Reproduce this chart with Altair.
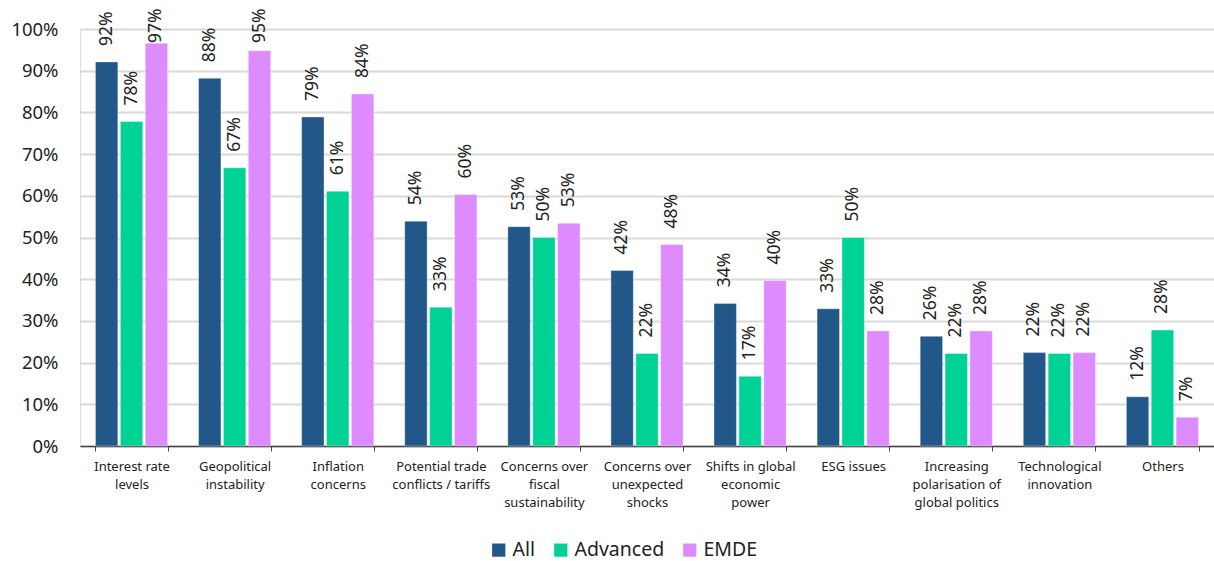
import altair as alt
import pandas as pd

# Survey categories (line breaks mark where the axis label wraps)
categories = [
    "Interest rate\nlevels",
    "Geopolitical\ninstability",
    "Inflation\nconcerns",
    "Potential trade\nconflicts / tariffs",
    "Concerns over\nfiscal\nsustainability",
    "Concerns over\nunexpected\nshocks",
    "Shifts in global\neconomic\npower",
    "ESG issues",
    "Increasing\npolarisation of\nglobal politics",
    "Technological\ninnovation",
    "Others",
]

series = ["All", "Advanced", "EMDE"]
colors = ["#22578A", "#00D296", "#DD8BFF"]

# Share of respondents (%)
all_vals = [92.1, 88.2, 78.9, 53.9, 52.6, 42.1, 34.2, 32.9, 26.3, 22.4, 11.8]
advanced_vals = [77.8, 66.7, 61.1, 33.3, 50.0, 22.2, 16.7, 50.0, 22.2, 22.2, 27.8]
emde_vals = [96.6, 94.8, 84.4, 60.3, 53.4, 48.3, 39.7, 27.6, 27.6, 22.4, 6.9]

rows = []
for s, vals in zip(series, [all_vals, advanced_vals, emde_vals]):
    for c, v in zip(categories, vals):
        rows.append({"category": c, "series": s, "value": v})
df = pd.DataFrame(rows)

FONT = "Noto Sans"

x = alt.X(
    "category:N",
    sort=categories,
    title=None,
    scale=alt.Scale(paddingInner=0.3, paddingOuter=0.15),
    axis=alt.Axis(
        labelAngle=0,
        labelExpr="split(datum.label, '\\n')",
        labelFontSize=13,
        labelFont=FONT,
        labelColor="#222222",
        labelLineHeight=18,
        labelPadding=9,
        labelBaseline="top",
        tickBand="extent",
        tickSize=5,
        tickColor="#444444",
        domainColor="#444444",
        domainWidth=1.5,
        grid=False,
    ),
)

xoff = alt.XOffset("series:N", sort=series, scale=alt.Scale(paddingInner=0.1))

bars = alt.Chart(df).mark_bar(stroke="white", strokeWidth=0.6, strokeOpacity=0.6).encode(
    x=x,
    xOffset=xoff,
    y=alt.Y(
        "value:Q",
        title=None,
        scale=alt.Scale(domain=[0, 100], nice=False),
        axis=alt.Axis(
            values=list(range(0, 101, 10)),
            labelExpr="datum.value + '%'",
            labelFontSize=18.5,
            labelFont=FONT,
            labelColor="#222222",
            labelPadding=22,
            ticks=False,
            domain=False,
            gridColor="#D9D9D9",
            gridWidth=2,
        ),
    ),
    color=alt.Color(
        "series:N",
        sort=series,
        scale=alt.Scale(domain=series, range=colors),
        legend=alt.Legend(
            title=None,
            orient="none",
            direction="horizontal",
            legendX=409,
            legendY=511,
            symbolType="square",
            symbolSize=175,
            symbolStrokeWidth=0,
            labelFontSize=19.5,
            labelFont=FONT,
            labelColor="#222222",
            labelOffset=4,
            columnPadding=15,
        ),
    ),
)

# Value labels sit above each bar, kept inside the top of the chart
labels = alt.Chart(df).transform_calculate(
    label="format(datum.value, '.0f') + '%'",
    pos="min(datum.value, 92.8) + 3.84",
).mark_text(
    angle=270,
    align="left",
    baseline="middle",
    fontSize=17.5,
    font=FONT,
    color="#222222",
).encode(
    x=x,
    xOffset=xoff,
    y=alt.Y("pos:Q"),
    text="label:N",
)

chart = (
    alt.layer(bars, labels)
    .properties(
        width=1134,
        height=417,
        padding={"left": 80, "top": 29, "right": 0, "bottom": 115},
        autosize=alt.AutoSizeParams(type="none"),
    )
    .configure_view(stroke=None)
    .configure(background="white")
)

chart.save("out.html", embed_options={"renderer": "svg", "actions": False})
